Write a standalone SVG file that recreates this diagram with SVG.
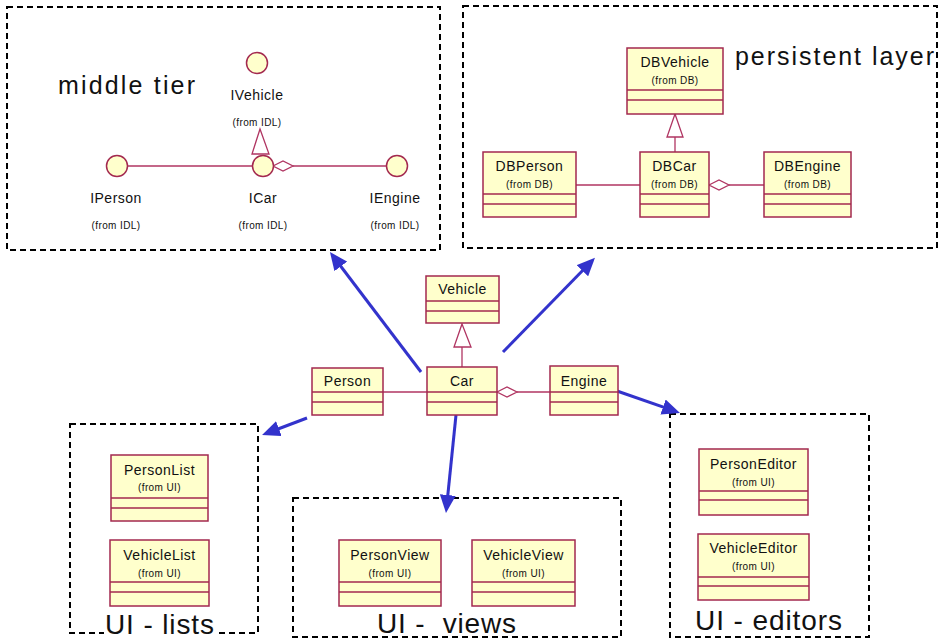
<svg xmlns="http://www.w3.org/2000/svg" width="942" height="639" viewBox="0 0 942 639">
  <style>
    text { font-family: "Liberation Sans", Arial, sans-serif; fill: #111; }
    .pkg { fill: none; stroke: #000; stroke-width: 2; stroke-dasharray: 6 4; }
    .title { font-size: 25px; }
    .ui-title { font-size: 28px; }
    .cls rect { fill: #ffffcc; stroke: #a3294f; stroke-width: 1.5; }
    .cls line { stroke: #a3294f; stroke-width: 1.3; }
    .name { font-size: 14px; letter-spacing: 0.5px; text-anchor: middle; }
    .from { font-size: 10px; letter-spacing: 0.4px; text-anchor: middle; }
    .iface circle { fill: #ffffcc; stroke: #a3294f; stroke-width: 1.5; }
    .assoc { stroke: #b03562; stroke-width: 1.3; fill: none; }
    .open { fill: #fff; stroke: #b03562; stroke-width: 1.3; }
    .dep { stroke: #3333cc; stroke-width: 3; fill: none; marker-end: url(#head); }
  </style>
  <defs>
    <marker id="head" markerUnits="userSpaceOnUse" markerWidth="18" markerHeight="16" refX="8" refY="8" orient="auto">
      <path d="M0,0 L18,8 L0,16 z" fill="#3333cc"/>
    </marker>
  </defs>

  <rect width="942" height="639" fill="#fff"/>

  <!-- package frames -->
  <g id="pkg-middle-tier">
    <rect class="pkg" x="7" y="7" width="433" height="243"/>
    <text class="title" x="58" y="94" textLength="137" lengthAdjust="spacing">middle tier</text>
  </g>
  <g id="pkg-persistent-layer">
    <rect class="pkg" x="463" y="6" width="474" height="242"/>
    <text class="title" x="735" y="65" textLength="199" lengthAdjust="spacing">persistent layer</text>
  </g>
  <g id="pkg-ui-lists">
    <rect class="pkg" x="70" y="424" width="188" height="209"/>
    <rect x="104" y="610" width="112" height="29" fill="#fff"/>
    <text class="ui-title" x="105" y="634" textLength="109" lengthAdjust="spacing">UI - lists</text>
  </g>
  <g id="pkg-ui-views">
    <rect class="pkg" x="293" y="498" width="328" height="139"/>
    <text class="ui-title" x="377" y="633" textLength="139" lengthAdjust="spacing" xml:space="preserve">UI -  views</text>
  </g>
  <g id="pkg-ui-editors">
    <rect class="pkg" x="670" y="414" width="199" height="223"/>
    <text class="ui-title" x="695" y="630" textLength="147" lengthAdjust="spacing">UI - editors</text>
  </g>

  <!-- connectors -->
  <g id="connectors">
    <!-- interfaces -->
    <line class="assoc" x1="128" y1="166" x2="252" y2="166"/>
    <line class="assoc" x1="293" y1="166" x2="386" y2="166"/>
    <polygon class="open" points="273,166 283,161 293,166 283,171"/>
    <polygon class="open" points="260,129 269,154 252,154"/>
    <!-- DB classes -->
    <line class="assoc" x1="576" y1="185" x2="640" y2="185"/>
    <line class="assoc" x1="729" y1="185" x2="764" y2="185"/>
    <polygon class="open" points="709,185 719,180 729,185 719,190"/>
    <line class="assoc" x1="675" y1="137" x2="675" y2="152"/>
    <polygon class="open" points="675,114 683,137 667,137"/>
    <!-- domain classes -->
    <line class="assoc" x1="383" y1="392" x2="427" y2="392"/>
    <line class="assoc" x1="517" y1="392" x2="550" y2="392"/>
    <polygon class="open" points="497,392 507,387 517,392 507,397"/>
    <line class="assoc" x1="462" y1="347" x2="462" y2="367"/>
    <polygon class="open" points="462,324 471,347 454,347"/>
    <!-- dependencies between layers -->
    <line class="dep" x1="421" y1="372" x2="336" y2="260"/>
    <line class="dep" x1="503" y1="352" x2="588" y2="265"/>
    <line class="dep" x1="307" y1="418" x2="271.4" y2="431.5"/>
    <line class="dep" x1="456" y1="415" x2="447" y2="503"/>
    <line class="dep" x1="617" y1="391" x2="670.6" y2="409.7"/>
  </g>

  <!-- middle tier interfaces -->
  <g id="IVehicle" class="iface">
    <circle cx="257" cy="63" r="10.5"/>
    <text class="name" x="257" y="100">IVehicle</text>
    <text class="from" x="257" y="126">(from IDL)</text>
  </g>
  <g id="IPerson" class="iface">
    <circle cx="117" cy="166" r="10.5"/>
    <text class="name" x="116" y="203">IPerson</text>
    <text class="from" x="116" y="229">(from IDL)</text>
  </g>
  <g id="ICar" class="iface">
    <circle cx="263" cy="166" r="10.5"/>
    <text class="name" x="263" y="203">ICar</text>
    <text class="from" x="263" y="229">(from IDL)</text>
  </g>
  <g id="IEngine" class="iface">
    <circle cx="397" cy="166" r="10.5"/>
    <text class="name" x="395" y="203">IEngine</text>
    <text class="from" x="395" y="229">(from IDL)</text>
  </g>

  <!-- persistent classes -->
  <g id="DBVehicle" class="cls">
    <rect x="627" y="48" width="96" height="66"/>
    <line x1="627" y1="90" x2="723" y2="90"/>
    <line x1="627" y1="100" x2="723" y2="100"/>
    <text class="name" x="675" y="67">DBVehicle</text>
    <text class="from" x="675" y="84">(from DB)</text>
  </g>
  <g id="DBPerson" class="cls">
    <rect x="483" y="152" width="93" height="65"/>
    <line x1="483" y1="194" x2="576" y2="194"/>
    <line x1="483" y1="204" x2="576" y2="204"/>
    <text class="name" x="529.5" y="171">DBPerson</text>
    <text class="from" x="529.5" y="188">(from DB)</text>
  </g>
  <g id="DBCar" class="cls">
    <rect x="640" y="152" width="69" height="65"/>
    <line x1="640" y1="194" x2="709" y2="194"/>
    <line x1="640" y1="204" x2="709" y2="204"/>
    <text class="name" x="674.5" y="171">DBCar</text>
    <text class="from" x="674.5" y="188">(from DB)</text>
  </g>
  <g id="DBEngine" class="cls">
    <rect x="764" y="152" width="87" height="65"/>
    <line x1="764" y1="194" x2="851" y2="194"/>
    <line x1="764" y1="204" x2="851" y2="204"/>
    <text class="name" x="807.5" y="171">DBEngine</text>
    <text class="from" x="807.5" y="188">(from DB)</text>
  </g>

  <!-- domain classes -->
  <g id="Vehicle" class="cls">
    <rect x="426" y="276" width="73" height="47"/>
    <line x1="426" y1="301" x2="499" y2="301"/>
    <line x1="426" y1="311" x2="499" y2="311"/>
    <text class="name" x="462.5" y="294">Vehicle</text>
  </g>
  <g id="Person" class="cls">
    <rect x="312" y="368" width="71" height="47"/>
    <line x1="312" y1="392" x2="383" y2="392"/>
    <line x1="312" y1="402" x2="383" y2="402"/>
    <text class="name" x="347.5" y="386">Person</text>
  </g>
  <g id="Car" class="cls">
    <rect x="427" y="367" width="70" height="48"/>
    <line x1="427" y1="392" x2="497" y2="392"/>
    <line x1="427" y1="402" x2="497" y2="402"/>
    <text class="name" x="462" y="386">Car</text>
  </g>
  <g id="Engine" class="cls">
    <rect x="550" y="366" width="68" height="49"/>
    <line x1="550" y1="392" x2="618" y2="392"/>
    <line x1="550" y1="402" x2="618" y2="402"/>
    <text class="name" x="584" y="386">Engine</text>
  </g>

  <!-- UI classes -->
  <g id="PersonList" class="cls">
    <rect x="111" y="455" width="97" height="66"/>
    <line x1="111" y1="498" x2="208" y2="498"/>
    <line x1="111" y1="508" x2="208" y2="508"/>
    <text class="name" x="159.5" y="475">PersonList</text>
    <text class="from" x="159.5" y="491">(from UI)</text>
  </g>
  <g id="VehicleList" class="cls">
    <rect x="110" y="540" width="99" height="66"/>
    <line x1="110" y1="582" x2="209" y2="582"/>
    <line x1="110" y1="592" x2="209" y2="592"/>
    <text class="name" x="159.5" y="560">VehicleList</text>
    <text class="from" x="159.5" y="577">(from UI)</text>
  </g>
  <g id="PersonView" class="cls">
    <rect x="339" y="540" width="102" height="66"/>
    <line x1="339" y1="582" x2="441" y2="582"/>
    <line x1="339" y1="592" x2="441" y2="592"/>
    <text class="name" x="390" y="560">PersonView</text>
    <text class="from" x="390" y="577">(from UI)</text>
  </g>
  <g id="VehicleView" class="cls">
    <rect x="472" y="540" width="103" height="66"/>
    <line x1="472" y1="582" x2="575" y2="582"/>
    <line x1="472" y1="592" x2="575" y2="592"/>
    <text class="name" x="523.5" y="560">VehicleView</text>
    <text class="from" x="523.5" y="577">(from UI)</text>
  </g>
  <g id="PersonEditor" class="cls">
    <rect x="699" y="449" width="109" height="66"/>
    <line x1="699" y1="491" x2="808" y2="491"/>
    <line x1="699" y1="500" x2="808" y2="500"/>
    <text class="name" x="753.5" y="469">PersonEditor</text>
    <text class="from" x="753.5" y="486">(from UI)</text>
  </g>
  <g id="VehicleEditor" class="cls">
    <rect x="698" y="534" width="111" height="66"/>
    <line x1="698" y1="577" x2="809" y2="577"/>
    <line x1="698" y1="586" x2="809" y2="586"/>
    <text class="name" x="753.5" y="553">VehicleEditor</text>
    <text class="from" x="753.5" y="570">(from UI)</text>
  </g>
</svg>
